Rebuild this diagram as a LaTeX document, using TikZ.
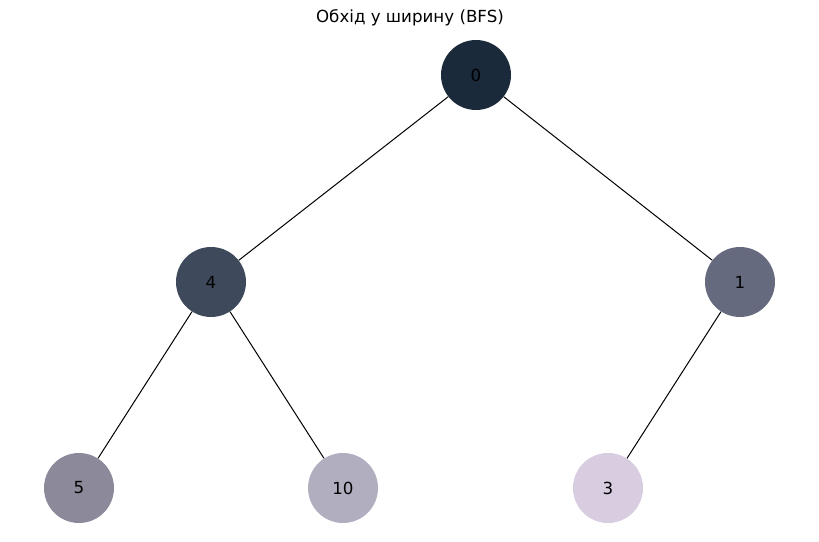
\documentclass[tikz,border=0pt]{standalone}
\usepackage{fontspec}
\setmainfont{DejaVu Sans}
\definecolor{cA}{HTML}{1B2A3B}
\definecolor{cB}{HTML}{3E4A5C}
\definecolor{cC}{HTML}{656A7E}
\definecolor{cD}{HTML}{8C8A9A}
\definecolor{cE}{HTML}{B1AEC0}
\definecolor{cF}{HTML}{D8CDE0}
\tikzset{
  vtx/.style={circle, minimum size=52.5pt, inner sep=0pt, font=\fontsize{12.5}{14}\selectfont, text=black},
  edge/.style={draw=black, line width=0.75pt}
}
\begin{document}
\begin{tikzpicture}[x=0.75pt, y=-0.75pt]
\useasboundingbox (0,0) rectangle (819,542);
\node[font=\fontsize{12.5}{14}\selectfont] (title) at (410,18) {Обхід у ширину (BFS)};
\node[vtx, fill=cA] (n0) at (476,75) {0};
\node[vtx, fill=cB] (n4) at (211,282) {4};
\node[vtx, fill=cC] (n1) at (740,282) {1};
\node[vtx, fill=cD] (n5) at (79,488) {5};
\node[vtx, fill=cE] (n10) at (343,488) {10};
\node[vtx, fill=cF] (n3) at (608,488) {3};
\draw[edge] (n0) -- (n4);
\draw[edge] (n0) -- (n1);
\draw[edge] (n4) -- (n5);
\draw[edge] (n4) -- (n10);
\draw[edge] (n1) -- (n3);
\end{tikzpicture}
\end{document}
